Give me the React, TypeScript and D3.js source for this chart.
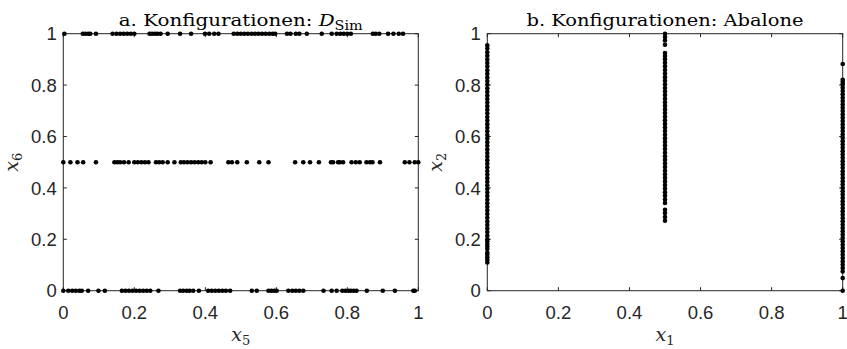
import React from "react";
import * as d3 from "d3";

// ---------- Data ----------
const tickValues = [0, 0.2, 0.4, 0.6, 0.8, 1];
const tickLabels = ["0", "0.2", "0.4", "0.6", "0.8", "1"];

// Panel a: D_Sim configurations (x5 values on each x6 level)
const simLevels = [1, 0.5, 0];
const simRow1X = [0.003, 0.055, 0.062, 0.07, 0.076, 0.092, 0.139, 0.15, 0.16, 0.17, 0.18, 0.19, 0.2, 0.243, 0.25, 0.258, 0.265, 0.274, 0.294, 0.329, 0.36, 0.399, 0.411, 0.425, 0.437, 0.48, 0.49, 0.5, 0.51, 0.52, 0.53, 0.54, 0.55, 0.56, 0.57, 0.58, 0.59, 0.597, 0.63, 0.64, 0.655, 0.665, 0.686, 0.728, 0.756, 0.77, 0.78, 0.79, 0.8, 0.81, 0.872, 0.88, 0.89, 0.915, 0.93, 0.945, 0.957];
const simRowHalfX = [0.0, 0.02, 0.04, 0.056, 0.092, 0.144, 0.152, 0.16, 0.171, 0.184, 0.2, 0.21, 0.22, 0.23, 0.24, 0.261, 0.27, 0.28, 0.294, 0.313, 0.331, 0.34, 0.35, 0.36, 0.37, 0.38, 0.39, 0.4, 0.415, 0.465, 0.475, 0.49, 0.517, 0.552, 0.578, 0.653, 0.676, 0.695, 0.72, 0.754, 0.76, 0.774, 0.779, 0.788, 0.812, 0.824, 0.835, 0.854, 0.864, 0.871, 0.892, 0.962, 0.975, 0.99, 1.0];
const simRow0X = [0.0, 0.014, 0.025, 0.035, 0.045, 0.052, 0.07, 0.099, 0.117, 0.165, 0.175, 0.185, 0.195, 0.205, 0.215, 0.225, 0.235, 0.245, 0.268, 0.329, 0.338, 0.348, 0.356, 0.366, 0.382, 0.408, 0.418, 0.428, 0.438, 0.448, 0.458, 0.47, 0.531, 0.545, 0.578, 0.586, 0.594, 0.601, 0.634, 0.645, 0.655, 0.665, 0.676, 0.733, 0.756, 0.77, 0.786, 0.795, 0.803, 0.81, 0.818, 0.826, 0.855, 0.9, 0.934, 0.986, 0.99];

// Panel b: Abalone configurations (x2 values on each x1 level)
const abaloneLevels = [0, 0.5, 1];
const abaloneCol0Y = [0.11, 0.12, 0.13, 0.14, 0.148, 0.162, 0.172, 0.182, 0.192, 0.2, 0.214, 0.228, 0.242, 0.256, 0.27, 0.284, 0.298, 0.312, 0.326, 0.34, 0.354, 0.368, 0.382, 0.396, 0.41, 0.424, 0.438, 0.452, 0.466, 0.48, 0.494, 0.508, 0.522, 0.536, 0.55, 0.564, 0.578, 0.592, 0.606, 0.62, 0.634, 0.648, 0.662, 0.676, 0.69, 0.704, 0.718, 0.732, 0.746, 0.76, 0.774, 0.788, 0.802, 0.816, 0.83, 0.844, 0.858, 0.872, 0.886, 0.9, 0.914, 0.928, 0.942, 0.955];
const abaloneColHalfY = [0.272, 0.287, 0.302, 0.315, 0.341, 0.355, 0.369, 0.383, 0.397, 0.411, 0.425, 0.439, 0.453, 0.467, 0.481, 0.495, 0.509, 0.523, 0.537, 0.551, 0.565, 0.579, 0.593, 0.607, 0.621, 0.635, 0.649, 0.663, 0.677, 0.691, 0.705, 0.719, 0.733, 0.747, 0.761, 0.775, 0.789, 0.803, 0.817, 0.831, 0.845, 0.859, 0.873, 0.887, 0.901, 0.913, 0.925, 0.957, 0.974, 0.987, 1.0];
const abaloneCol1Y = [0.0, 0.049, 0.075, 0.088, 0.101, 0.114, 0.127, 0.14, 0.153, 0.166, 0.179, 0.192, 0.205, 0.218, 0.231, 0.244, 0.257, 0.27, 0.283, 0.296, 0.309, 0.322, 0.335, 0.348, 0.361, 0.374, 0.387, 0.4, 0.413, 0.426, 0.439, 0.452, 0.465, 0.478, 0.491, 0.504, 0.517, 0.53, 0.543, 0.556, 0.569, 0.582, 0.595, 0.608, 0.621, 0.634, 0.647, 0.66, 0.673, 0.686, 0.699, 0.712, 0.725, 0.738, 0.751, 0.764, 0.777, 0.79, 0.803, 0.812, 0.821, 0.882];

const AXIS = "#262626";
const SANS = "'Liberation Sans', Arial, Helvetica, sans-serif";
const SERIF = "'DejaVu Serif', 'Liberation Serif', serif";

type Pt = { x: number; y: number };

function Panel({
  x0, x1, y0, y1, points, title, titleWidth, xLabelMain, xLabelSub, yLabelMain, yLabelSub, yLabelX,
}: {
  x0: number; x1: number; y0: number; y1: number; points: Pt[];
  title: React.ReactNode; titleWidth: number; xLabelMain: string; xLabelSub: string;
  yLabelMain: string; yLabelSub: string; yLabelX: number;
}) {
  const xs = d3.scaleLinear().domain([0, 1]).range([x0, x1]);
  const ys = d3.scaleLinear().domain([0, 1]).range([y0, y1]);
  const tl = 3.5;
  const cx = (x0 + x1) / 2;
  const cy = (y0 + y1) / 2;
  return (
    <g>
      <rect x={x0} y={y1} width={x1 - x0} height={y0 - y1} fill="none" stroke={AXIS} strokeWidth={1} />
      {tickValues.map((t, i) => (
        <g key={"t" + i}>
          <line x1={xs(t)} x2={xs(t)} y1={y0} y2={y0 - tl} stroke={AXIS} />
          <line x1={xs(t)} x2={xs(t)} y1={y1} y2={y1 + tl} stroke={AXIS} />
          <line x1={x0} x2={x0 + tl} y1={ys(t)} y2={ys(t)} stroke={AXIS} />
          <line x1={x1} x2={x1 - tl} y1={ys(t)} y2={ys(t)} stroke={AXIS} />
          <text x={xs(t)} y={318.5} textAnchor="middle" fontFamily={SANS} fontSize={18.5} fill={AXIS}>
            {tickLabels[i]}
          </text>
          <text x={x0 - 6.5} y={ys(t) + 6.6} textAnchor="end" fontFamily={SANS} fontSize={18.5} fill={AXIS}>
            {tickLabels[i]}
          </text>
        </g>
      ))}
      {points.map((p, i) => (
        <circle key={"p" + i} cx={xs(p.x)} cy={ys(p.y)} r={2.3} fill="#000" />
      ))}
      <text x={cx} y={26} textAnchor="middle" fontFamily={SERIF} fontSize={16.5} fill="#000"
        textLength={titleWidth} lengthAdjust="spacingAndGlyphs">
        {title}
      </text>
      <text x={cx} y={341} textAnchor="middle" fontFamily={SERIF} fontSize={19} fill={AXIS}>
        <tspan fontStyle="italic">{xLabelMain}</tspan>
        <tspan fontSize={13} dy={4}>{xLabelSub}</tspan>
      </text>
      <text transform={`translate(${yLabelX},${cy}) rotate(-90)`} textAnchor="middle" fontFamily={SERIF} fontSize={19} fill={AXIS}>
        <tspan fontStyle="italic">{yLabelMain}</tspan>
        <tspan fontSize={13} dy={4}>{yLabelSub}</tspan>
      </text>
    </g>
  );
}

export default function App() {
  const simPoints: Pt[] = [
    ...simRow1X.map((x) => ({ x, y: simLevels[0] })),
    ...simRowHalfX.map((x) => ({ x, y: simLevels[1] })),
    ...simRow0X.map((x) => ({ x, y: simLevels[2] })),
  ];
  const abalonePoints: Pt[] = [
    ...abaloneCol0Y.map((y) => ({ x: abaloneLevels[0], y })),
    ...abaloneColHalfY.map((y) => ({ x: abaloneLevels[1], y })),
    ...abaloneCol1Y.map((y) => ({ x: abaloneLevels[2], y })),
  ];
  return (
    <svg width={847} height={349} style={{ position: "absolute", left: 0, top: 0, background: "#fff" }}>
      <rect x={0} y={0} width={847} height={349} fill="#fff" />
      <Panel
        x0={63.3} x1={418.3} y0={290.7} y1={33.7}
        points={simPoints}
        title={<>
          <tspan>a. Konfigurationen: </tspan>
          <tspan fontStyle="italic">D</tspan>
          <tspan fontSize={12} dy={4}>Sim</tspan>
        </>}
        titleWidth={244}
        xLabelMain="x" xLabelSub="5" yLabelMain="x" yLabelSub="6" yLabelX={18}
      />
      <Panel
        x0={487.3} x1={842.7} y0={290.7} y1={33.7}
        points={abalonePoints}
        title={<tspan>b. Konfigurationen: Abalone</tspan>}
        titleWidth={277}
        xLabelMain="x" xLabelSub="1" yLabelMain="x" yLabelSub="2" yLabelX={442}
      />
    </svg>
  );
}
